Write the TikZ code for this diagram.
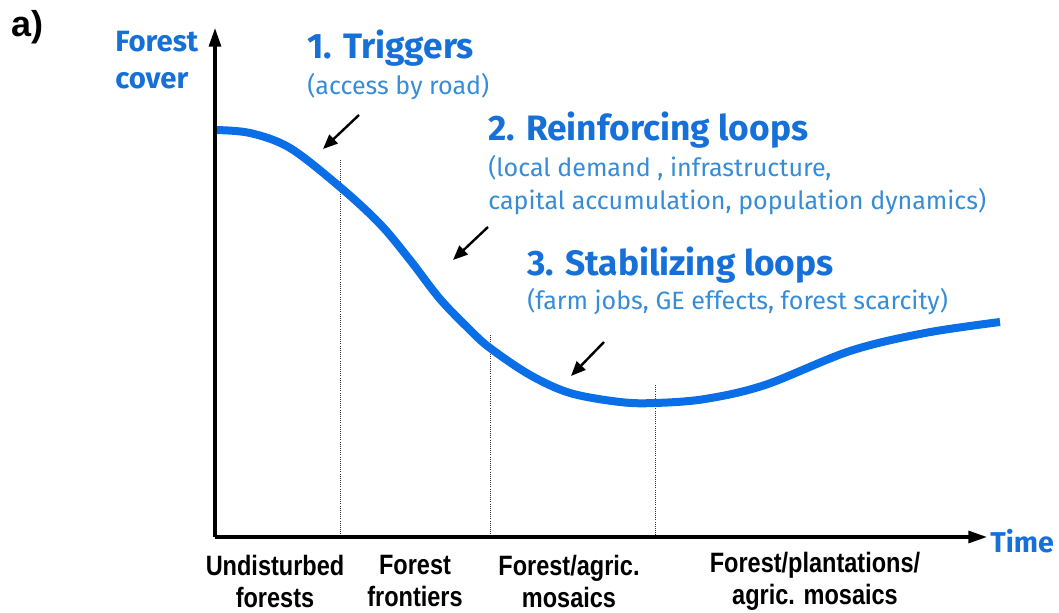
\documentclass[tikz,border=0pt]{standalone}
\usepackage{fontspec}
\setmainfont{Fira Sans}
\newfontfamily\narrowfont[FakeStretch=0.84]{Liberation Sans}
\usetikzlibrary{arrows.meta}
\definecolor{headblue}{RGB}{22,112,215}
\definecolor{noteblue}{RGB}{55,140,215}
\definecolor{curveblue}{RGB}{10,110,230}

\begin{document}
\begin{tikzpicture}[x=0.75pt,y=-0.75pt,
	axis/.style={line width=2.3pt,-{Triangle[length=14pt,width=9pt]}},
	phase/.style={line width=0.6pt,densely dotted,black!80},
	pointer/.style={line width=1.8pt,-{Triangle[length=11pt,width=9pt]}},
	head/.style={text=headblue,font=\bfseries\fontsize{26.5}{28}\selectfont,anchor=west,inner sep=0pt},
	note/.style={text=noteblue,font=\fontsize{18.8}{25}\selectfont,anchor=west,inner sep=0pt,align=left},
	stage/.style={font=\narrowfont\bfseries\fontsize{21}{24}\selectfont,align=center,inner sep=0pt}]
			\useasboundingbox (0,0) rectangle (1059,613);
			
			\coordinate (O) at (215,537);% origin
			\coordinate (Y) at (215,28);
			\coordinate (X) at (987,537);
			
			% phase borders
			\coordinate (P1) at (340,160);
			\coordinate (P2) at (490,335);
			\coordinate (P3) at (655,385);
			\draw[phase] (P1) -- (P1 |- O);
			\draw[phase] (P2) -- (P2 |- O);
			\draw[phase] (P3) -- (P3 |- O);
			
			% forest cover curve
			\draw[curveblue,line width=6pt] plot[smooth,tension=0.55] coordinates {
				(214,130) (250,133) (290,148) (340,187) (380,224) (410,260)
				(440,299) (470,330) (490,348) (530,375) (570,393) (620,402) (655,403)
				(705,399) (765,385) (850,351) (925,333) (1000,322)};
			
			\draw[axis] (O) -- (Y);
			\draw[axis] (O) -- (X);
			
			\node[font=\bfseries\fontsize{27}{27}\selectfont,anchor=west,inner sep=0pt] (tag) at (11,27) {\fontspec{Liberation Sans}\bfseries a)};
			\node[head,font=\bfseries\fontsize{22}{28}\selectfont,align=left,anchor=north west] (ylab) at (115,31) {Forest\\cover};
			\node[head,font=\bfseries\fontsize{21.5}{24}\selectfont] (xlab) at (990,541) {Time};
			
			\node[head] (trig) at (307,48) {1. Triggers};
			\node[note] (trignote) at (307,87) {(access by road)};
			\node[head] (reinf) at (488,130) {2. Reinforcing loops};
			\node[note,anchor=north west] (reinfnote) at (488,155) {(local demand , infrastructure,\\capital accumulation, population dynamics)};
			\node[head] (stab) at (527,265) {3. Stabilizing loops};
			\node[note] (stabnote) at (527,302) {(farm jobs, GE effects, forest scarcity)};
			
			% arrows onto the curve
			\coordinate (A1) at (359,115);
			\coordinate (B1) at (323,149);
			\coordinate (A2) at (488,227);
			\coordinate (B2) at (453,260);
			\coordinate (A3) at (604,342);
			\coordinate (B3) at (571,376);
			\draw[pointer] (A1) -- (B1);
			\draw[pointer] (A2) -- (B2);
			\draw[pointer] (A3) -- (B3);
			
			\node[stage] (s1) at (275,581) {Undisturbed\\forests};
			\node[stage] (s2) at (415,581) {Forest\\frontiers};
			\node[stage] (s3) at (569,581) {Forest/agric.\\mosaics};
			\node[stage] (s4) at (815,581) {Forest/plantations/\\agric. mosaics};
		\end{tikzpicture}
\end{document}
